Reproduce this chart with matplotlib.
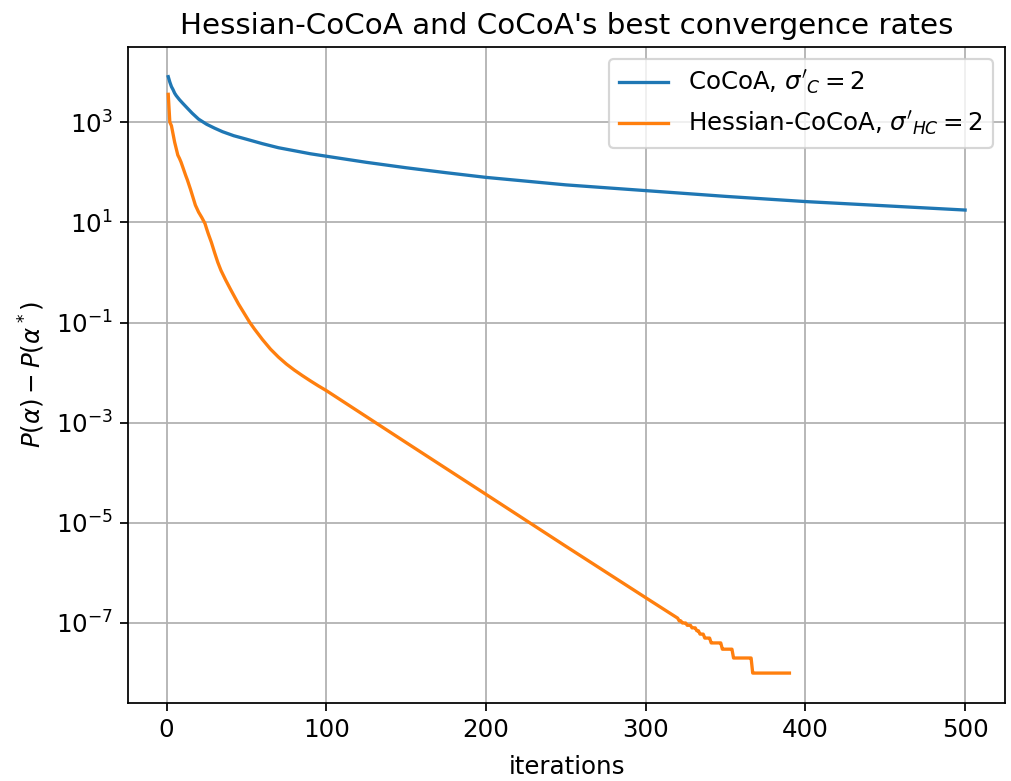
import numpy as np
import matplotlib
matplotlib.use("Agg")
import matplotlib.pyplot as plt

plt.rcParams["font.size"] = 11.2
plt.rcParams["axes.titlesize"] = 13.4

# CoCoA: suboptimality
cocoa_iters = [1, 2, 3, 4, 5, 6, 8, 10, 13, 16, 20, 25, 30, 35, 42, 50, 60,
               70, 80, 90, 100, 125, 150, 175, 200, 250, 300, 350, 400, 450,
               500]
cocoa_vals = [8100, 6300, 5130, 4470, 3800, 3390, 2820, 2400, 1900, 1510,
              1150, 910, 760, 645, 537, 457, 372, 309, 269, 234, 209, 158,
              123, 98, 79, 56, 43, 33, 26, 21.4, 17.6]

# Hessian-CoCoA: head (sparse) + tail (every iteration, quantised steps)
hc_head_iters = [1, 2, 3, 5, 7, 8, 9, 12, 13, 15, 18, 20, 22, 24, 25, 26, 28,
                 30, 32, 34, 37, 40, 45, 52, 55, 60, 65, 70, 75, 80, 85, 90,
                 95, 100, 150, 200, 250, 300, 310, 320]
hc_head_vals = [3600, 1000, 850, 400, 220, 190, 160, 85, 70, 45, 22, 16, 12.5,
                9.5, 7.5, 6, 4, 2.5, 1.6, 1.1, 0.7, 0.46, 0.234, 0.101, 0.074,
                0.0457, 0.0295, 0.0204, 0.0148, 0.0112, 0.0087, 0.00684,
                0.00543, 0.00437, 4.0e-4, 3.7e-5, 3.4e-6, 3.2e-7, 2.0e-7,
                1.25e-7]
hc_tail_iters = list(range(321, 391))
hc_tail_vals = [1.1e-7, 1.1e-7,
                1e-7, 1e-7, 1e-7,
                9e-8, 9e-8, 9e-8,
                8e-8, 8e-8, 8e-8,
                7e-8, 7e-8,
                6e-8, 6e-8, 6e-8,
                5e-8, 5e-8, 5e-8, 5e-8,
                4e-8, 4e-8, 4e-8, 4e-8, 4e-8, 4e-8, 4e-8,
                3e-8, 3e-8, 3e-8, 3e-8, 3e-8, 3e-8, 3e-8,
                2e-8, 2e-8, 2e-8, 2e-8, 2e-8, 2e-8, 2e-8, 2e-8, 2e-8, 2e-8,
                2e-8, 2e-8,
                1e-8, 1e-8, 1e-8, 1e-8, 1e-8, 1e-8, 1e-8, 1e-8, 1e-8, 1e-8,
                1e-8, 1e-8, 1e-8, 1e-8, 1e-8, 1e-8, 1e-8, 1e-8, 1e-8, 1e-8,
                1e-8, 1e-8, 1e-8, 1e-8]

hc_iters = hc_head_iters + hc_tail_iters
hc_vals = hc_head_vals + hc_tail_vals

fig = plt.figure(figsize=(1011 / 158, 781 / 158), dpi=158)
ax = fig.add_axes([0.127, 0.1, 0.867, 0.84])

ax.semilogy(cocoa_iters, cocoa_vals, label=r"CoCoA, $\sigma'_C = 2$")
ax.semilogy(hc_iters, hc_vals, label=r"Hessian-CoCoA, $\sigma'_{HC} = 2$")

ax.set_title("Hessian-CoCoA and CoCoA's best convergence rates")
ax.set_xlabel("iterations", labelpad=6)
ax.set_ylabel(r"$P(\alpha) - P(\alpha^*)$")
ax.grid(True)
ax.legend(loc="upper right")

fig.savefig("out.png", dpi=158)
